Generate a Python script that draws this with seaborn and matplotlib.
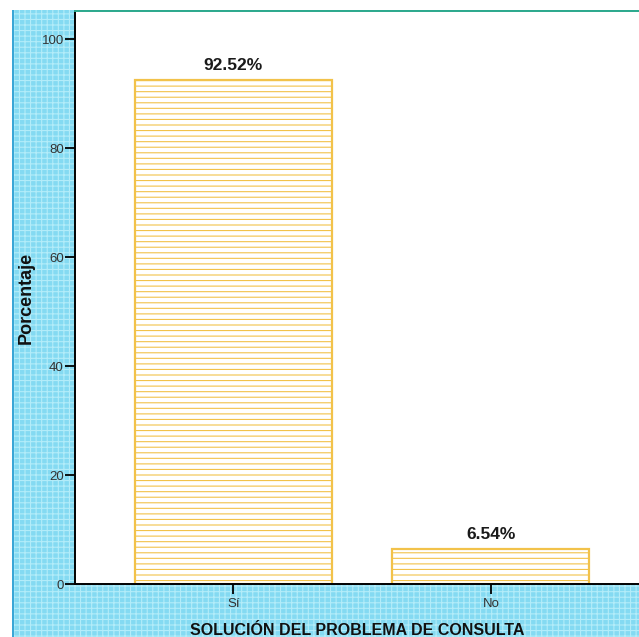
import matplotlib
matplotlib.use("Agg")
import matplotlib.pyplot as plt
import seaborn as sns
import pandas as pd
from matplotlib.patches import Rectangle

categories = ["Sí", "No"]
percentages = [92.52, 6.54]
y_ticks = [0, 20, 40, 60, 80, 100]

df = pd.DataFrame({"Respuesta": categories, "Porcentaje": percentages})

sns.set_style("white")
plt.rcParams["font.family"] = ["Liberation Sans", "DejaVu Sans"]
plt.rcParams["hatch.linewidth"] = 0.8

fig = plt.figure(figsize=(6.39, 6.37), dpi=100)
fig.patch.set_facecolor("white")

# blue panel behind the chart with a fine grid texture
panel = Rectangle((12 / 639, 0), 1 - 12 / 639, 1 - 10 / 637,
                  transform=fig.transFigure, facecolor="#84daf2",
                  edgecolor="#b3ecf9", hatch="+++", linewidth=0, zorder=-3)
fig.patches.append(panel)
edge = Rectangle((12 / 639, 0), 2 / 639, 1 - 10 / 637,
                 transform=fig.transFigure, facecolor="#3aa6d6",
                 edgecolor="none", zorder=-2)
fig.patches.append(edge)

ax = fig.add_axes([75 / 639, 1 - 584.3 / 637, 1 - 75 / 639, (584.3 - 10.7) / 637])
ax.set_facecolor("white")

sns.barplot(data=df, x="Respuesta", y="Porcentaje", ax=ax, width=0.765,
            color="white", edgecolor="#f2c24a", linewidth=1.6,
            hatch="---", saturation=1)
for bar in ax.patches:
    bar.set_hatch("---")
    bar.set_edgecolor("#f2c24a")
    bar.set_facecolor("white")

for bar, val in zip(ax.patches, percentages):
    ax.text(bar.get_x() + bar.get_width() / 2, val + 1.2, f"{val:.2f}%",
            ha="center", va="bottom", fontsize=12.5, fontweight="bold",
            color="#1a1a1a")

ax.set_xlim(-0.615, 1.575)
ax.set_ylim(0, 105.2)
ax.set_yticks(y_ticks)
ax.set_yticklabels([str(t) for t in y_ticks], fontsize=9.5, color="#333333")
ax.tick_params(axis="y", left=True, direction="out", length=7, width=1.3,
               color="black", pad=1)
ax.tick_params(axis="x", bottom=True, direction="out", length=7, width=1.3,
               color="black", labelsize=9.5, labelcolor="#333333", pad=3)

ax.set_ylabel("Porcentaje", fontsize=13, fontweight="bold", color="#111111", labelpad=5)
ax.set_xlabel("SOLUCIÓN DEL PROBLEMA DE CONSULTA", fontsize=11.5, fontweight="bold",
              color="#111111", labelpad=9)

for side in ["left", "bottom"]:
    ax.spines[side].set_color("black")
    ax.spines[side].set_linewidth(1.4)
ax.spines["top"].set_color("#2ba88c")
ax.spines["top"].set_linewidth(1.4)
ax.spines["right"].set_visible(False)

fig.savefig("out.png", dpi=100)
